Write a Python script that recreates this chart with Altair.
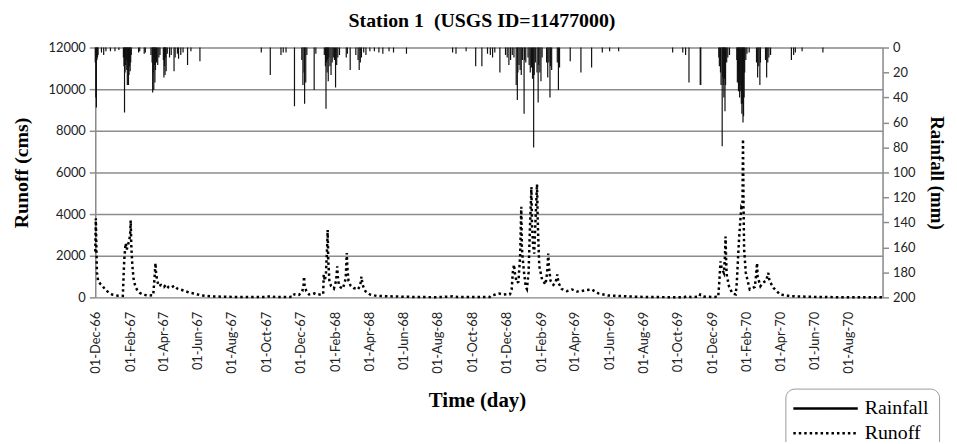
import altair as alt
import pandas as pd

# ---------------- data ----------------
runoff_dates = [
    "1966-12-01", "1966-12-02", "1966-12-03", "1966-12-04", "1966-12-06", "1966-12-10", "1966-12-14",
    "1966-12-18", "1966-12-22", "1966-12-26", "1966-12-31",
    "1967-01-10", "1967-01-19", "1967-01-21", "1967-01-22", "1967-01-24", "1967-01-26", "1967-01-28",
    "1967-01-30", "1967-02-01", "1967-02-02", "1967-02-03", "1967-02-05", "1967-02-07", "1967-02-10",
    "1967-02-13", "1967-02-18", "1967-02-24", "1967-03-05", "1967-03-14", "1967-03-16", "1967-03-18",
    "1967-03-19", "1967-03-21", "1967-03-24", "1967-03-28", "1967-04-02", "1967-04-06", "1967-04-10",
    "1967-04-14", "1967-04-20", "1967-04-26", "1967-05-01", "1967-05-10", "1967-05-18", "1967-05-27",
    "1967-06-08", "1967-06-25", "1967-07-15", "1967-08-15", "1967-09-15", "1967-10-01", "1967-10-08",
    "1967-10-15", "1967-11-10", "1967-11-18", "1967-11-20", "1967-11-28", "1967-12-04", "1967-12-06",
    "1967-12-07", "1967-12-08", "1967-12-11", "1967-12-16", "1967-12-21", "1967-12-25", "1967-12-30",
    "1968-01-10", "1968-01-11", "1968-01-13", "1968-01-15", "1968-01-17", "1968-01-18", "1968-01-19",
    "1968-01-21", "1968-01-24", "1968-01-29", "1968-02-02", "1968-02-04", "1968-02-05", "1968-02-07",
    "1968-02-10", "1968-02-14", "1968-02-19", "1968-02-21", "1968-02-22", "1968-02-24", "1968-02-28",
    "1968-03-04", "1968-03-12", "1968-03-16", "1968-03-18", "1968-03-20", "1968-03-25", "1968-04-02",
    "1968-04-14", "1968-05-01", "1968-06-01", "1968-07-01", "1968-08-01", "1968-08-27", "1968-09-05",
    "1968-10-01", "1968-11-01", "1968-11-03", "1968-11-10", "1968-11-18", "1968-11-25", "1968-12-02",
    "1968-12-07", "1968-12-10", "1968-12-12", "1968-12-14", "1968-12-16", "1968-12-19", "1968-12-22",
    "1968-12-25", "1968-12-27", "1968-12-28", "1968-12-29",
    "1969-01-01", "1969-01-04", "1969-01-06", "1969-01-09", "1969-01-11", "1969-01-13", "1969-01-14",
    "1969-01-15", "1969-01-17", "1969-01-19", "1969-01-21", "1969-01-23", "1969-01-24", "1969-01-25",
    "1969-01-26", "1969-01-28", "1969-02-02", "1969-02-08", "1969-02-11", "1969-02-13", "1969-02-14",
    "1969-02-17", "1969-02-22", "1969-02-26", "1969-03-01", "1969-03-03", "1969-03-09", "1969-03-18",
    "1969-03-27", "1969-04-05", "1969-04-13", "1969-04-22", "1969-05-01", "1969-05-13", "1969-05-30",
    "1969-06-23", "1969-07-20", "1969-08-20", "1969-09-20", "1969-10-12", "1969-10-18", "1969-10-24",
    "1969-11-08", "1969-11-10", "1969-11-16", "1969-12-01", "1969-12-12", "1969-12-14", "1969-12-16",
    "1969-12-18", "1969-12-22", "1969-12-24", "1969-12-25", "1969-12-26", "1969-12-27", "1969-12-31",
    "1970-01-06", "1970-01-12", "1970-01-14", "1970-01-16", "1970-01-18", "1970-01-20", "1970-01-22",
    "1970-01-24", "1970-01-25", "1970-01-26", "1970-01-27", "1970-01-30", "1970-02-06", "1970-02-15",
    "1970-02-17", "1970-02-19", "1970-02-20", "1970-02-25", "1970-03-01", "1970-03-07", "1970-03-11",
    "1970-03-13", "1970-03-20", "1970-04-01", "1970-04-19", "1970-05-20", "1970-06-20", "1970-07-20",
    "1970-08-20", "1970-09-30",
]
runoff_cms = [
    2200, 3800, 2400, 1200, 800, 650, 550,
    400, 300, 220, 140,
    80, 70, 1500, 2000, 2600, 2300, 2500,
    2700, 3000, 3700, 2500, 1500, 900, 550,
    380, 220, 130, 90, 100, 800, 1650,
    1200, 800, 540, 600, 500, 620, 480,
    450, 560, 420, 380, 300, 220, 180,
    90, 50, 30, 20, 15, 20, 60,
    25, 20, 30, 150, 120, 300, 600,
    1000, 600, 300, 140, 150, 190, 130,
    150, 1100, 800, 1200, 2400, 3240, 1800,
    800, 540, 420, 800, 1490, 1000, 600,
    480, 420, 900, 2130, 1400, 800, 550,
    450, 380, 600, 1000, 600, 300, 140,
    70, 55, 30, 15, 10, 50, 15,
    15, 20, 80, 130, 180, 140, 160,
    150, 400, 1200, 1570, 1100, 700, 750,
    2000, 4350, 2500, 2000,
    1175, 500, 400, 1200, 3000, 4500, 5300,
    3500, 2500, 2100, 3500, 4800, 5430, 4000,
    3000, 1500, 860, 620, 1200, 2100, 1500,
    800, 600, 700, 1100, 700, 400, 300,
    380, 280, 300, 350, 380, 190, 90,
    60, 30, 15, 10, 10, 60, 20,
    30, 140, 40, 20, 30, 800, 1730,
    1400, 1175, 2000, 2920, 1800, 1100, 540,
    190, 140, 700, 1800, 2800, 3600, 4300,
    4200, 7600, 4300, 2300, 1175, 380, 500,
    1000, 1650, 1000, 540, 700, 800, 1175,
    800, 460, 140, 60, 30, 15, 10,
    8, 8,
]

rain_dates = [
    "1966-12-01", "1966-12-02", "1966-12-03", "1966-12-04", "1966-12-05", "1966-12-06", "1966-12-12",
    "1966-12-16", "1966-12-20", "1966-12-28", "1967-01-05", "1967-01-12",
    "1967-01-20", "1967-01-21", "1967-01-22", "1967-01-23", "1967-01-24", "1967-01-25", "1967-01-26",
    "1967-01-27", "1967-01-28", "1967-01-29", "1967-01-30", "1967-01-31", "1967-02-01", "1967-02-02",
    "1967-02-03", "1967-02-16", "1967-02-18", "1967-02-26", "1967-02-28",
    "1967-03-10", "1967-03-12", "1967-03-13", "1967-03-14", "1967-03-15", "1967-03-16", "1967-03-17",
    "1967-03-18", "1967-03-19", "1967-03-20", "1967-03-22", "1967-03-24", "1967-03-26",
    "1967-04-01", "1967-04-02", "1967-04-03", "1967-04-04", "1967-04-05", "1967-04-06", "1967-04-08",
    "1967-04-12", "1967-04-15", "1967-04-20", "1967-04-22", "1967-04-26", "1967-04-28", "1967-05-02",
    "1967-05-06", "1967-05-14", "1967-05-20", "1967-06-05",
    "1967-09-22", "1967-10-08", "1967-10-27", "1967-10-31", "1967-11-05", "1967-11-20",
    "1967-12-03", "1967-12-05", "1967-12-07", "1967-12-08", "1967-12-10", "1967-12-12", "1967-12-25",
    "1967-12-28",
    "1968-01-12", "1968-01-14", "1968-01-15", "1968-01-16", "1968-01-17", "1968-01-18", "1968-01-19",
    "1968-01-20", "1968-01-22", "1968-01-24", "1968-01-26", "1968-01-28", "1968-01-30", "1968-02-01",
    "1968-02-03", "1968-02-05", "1968-02-08", "1968-02-20", "1968-02-22", "1968-02-27",
    "1968-03-08", "1968-03-12", "1968-03-14", "1968-03-16", "1968-03-18", "1968-03-22", "1968-03-26",
    "1968-04-02", "1968-04-10", "1968-04-18", "1968-04-25", "1968-05-06", "1968-05-14", "1968-06-06",
    "1968-08-27", "1968-09-02", "1968-09-20", "1968-10-07", "1968-10-18", "1968-10-28", "1968-11-02",
    "1968-11-06", "1968-11-10", "1968-11-19", "1968-11-29", "1968-12-02", "1968-12-05", "1968-12-08",
    "1968-12-11", "1968-12-14", "1968-12-18", "1968-12-20", "1968-12-21", "1968-12-23", "1968-12-25",
    "1968-12-27", "1968-12-29",
    "1969-01-01", "1969-01-02", "1969-01-04", "1969-01-08", "1969-01-10", "1969-01-12", "1969-01-14",
    "1969-01-16", "1969-01-18", "1969-01-19", "1969-01-21", "1969-01-24", "1969-01-26", "1969-01-27",
    "1969-01-29", "1969-01-31", "1969-02-02", "1969-02-10", "1969-02-12", "1969-02-14", "1969-02-16",
    "1969-02-17", "1969-02-19", "1969-03-01", "1969-03-03", "1969-03-05", "1969-03-24", "1969-04-12",
    "1969-05-01", "1969-05-20", "1969-06-02", "1969-06-18",
    "1969-09-22", "1969-10-10", "1969-10-15", "1969-10-21", "1969-11-10", "1969-11-11",
    "1969-12-13", "1969-12-14", "1969-12-16", "1969-12-17", "1969-12-19", "1969-12-20", "1969-12-21",
    "1969-12-22", "1969-12-23", "1969-12-24", "1969-12-25", "1969-12-27", "1969-12-29",
    "1970-01-01", "1970-01-14", "1970-01-15", "1970-01-16", "1970-01-17", "1970-01-18", "1970-01-19",
    "1970-01-20", "1970-01-21", "1970-01-22", "1970-01-23", "1970-01-24", "1970-01-25", "1970-01-26",
    "1970-01-27", "1970-01-28", "1970-01-30", "1970-02-01", "1970-02-05", "1970-02-18", "1970-02-20",
    "1970-02-22", "1970-02-24", "1970-02-25", "1970-03-06", "1970-03-08", "1970-03-10", "1970-03-12",
    "1970-03-15", "1970-04-21", "1970-04-25", "1970-04-28", "1970-05-10", "1970-06-16",
]
rain_mm = [
    12, 40, 48, 10, 8, 6, 4,
    6, 3, 3, 3, 2,
    8, 15, 52, 20, 14, 10, 18,
    30, 12, 30, 22, 15, 19, 12,
    6, 4, 3, 5, 4,
    6, 12, 36, 20, 34, 14, 28,
    18, 10, 12, 14, 8, 6,
    10, 24, 15, 22, 8, 19, 5,
    8, 6, 19, 8, 5, 9, 6,
    4, 14, 3, 11,
    4, 22, 6, 4, 4, 47,
    10, 30, 20, 45, 28, 6, 34,
    5,
    6, 15, 49, 12, 20, 10, 27,
    8, 15, 22, 12, 8, 10, 32,
    14, 8, 6, 8, 5, 18,
    6, 10, 18, 12, 8, 4, 6,
    3, 3, 4, 5, 3, 4, 5,
    4, 5, 3, 15, 15, 5, 6,
    8, 4, 20, 6, 8, 14, 10,
    6, 8, 30, 42, 20, 14, 18,
    22, 10,
    53, 10, 12, 8, 14, 20, 16,
    25, 80, 22, 12, 20, 44, 14,
    20, 27, 8, 12, 24, 12, 40,
    15, 18, 12, 34, 16, 11, 20,
    16, 4, 3, 3,
    4, 4, 6, 28, 30, 30,
    8, 15, 20, 30, 79, 24, 30,
    40, 25, 51, 30, 12, 8,
    6, 10, 28, 20, 35, 25, 40,
    30, 35, 45, 53, 45, 60, 55,
    40, 20, 10, 5, 4, 12, 24,
    15, 30, 12, 10, 24, 12, 8,
    6, 10, 6, 4, 3, 4,
]

series_names = ["Rainfall", "Runoff"]
runoff_ticks = [0, 2000, 4000, 6000, 8000, 10000, 12000]
rain_ticks = [0, 20, 40, 60, 80, 100, 120, 140, 160, 180, 200]

# ---------------- tables ----------------
runoff_df = pd.DataFrame({"date": pd.to_datetime(runoff_dates), "runoff": runoff_cms, "series": "Runoff"})
rain_df = pd.DataFrame({"date": pd.to_datetime(rain_dates), "rain": rain_mm, "series": "Rainfall"})

tick_dates = pd.date_range("1966-12-01", "1970-08-01", freq="2MS")
tick_values = [alt.DateTime(year=int(d.year), month=int(d.month), date=1) for d in tick_dates]

GRID = "#8c8c8c"
SERIF = "Liberation Serif"
SANS = "Lato"

x_enc = alt.X(
    "date:T",
    scale=alt.Scale(
        domain=[alt.DateTime(year=1966, month=12, date=1), alt.DateTime(year=1970, month=9, date=30)],
        nice=False,
    ),
    axis=alt.Axis(
        values=tick_values, format="%d-%b-%y", labelAngle=-90, labelFont=SANS, labelFontSize=13,
        labelColor="#222", labelPadding=14, ticks=False, domain=False, grid=False,
        title="Time (day)", titleFont=SERIF, titleFontSize=21, titleFontWeight="bold", titleColor="black",
        titleX=385, titleY=104, titleBaseline="middle", titleAnchor="middle",
    ),
)

# long horizontal legend swatch: path spans -2.4..10.6 units, scaled by sqrt(size)/2 = 5 px
dash = alt.StrokeDash(
    "series:N",
    scale=alt.Scale(domain=series_names, range=[[1, 0], [2.5, 3]]),
    legend=alt.Legend(
        orient="none", legendX=696, legendY=344, title=None, symbolType="M-2.4,0L10.6,0", symbolSize=100,
        symbolStrokeWidth=2.5, symbolStrokeColor="black", labelFont=SERIF, labelFontSize=20,
        labelColor="black", strokeColor="#999", cornerRadius=9, padding=10, labelOffset=50,
        rowPadding=5, fillColor="white",
    ),
)

rain_layer = alt.Chart(rain_df).mark_rule(color="#111", strokeWidth=1.2).encode(
    x=x_enc,
    y=alt.Y(
        "rain:Q",
        scale=alt.Scale(domain=[0, 200], reverse=True, nice=False),
        axis=alt.Axis(
            orient="right", values=rain_ticks, format="d", grid=False, domainColor=GRID, domainWidth=1.5,
            tickColor=GRID, tickWidth=1.5, tickSize=6, labelFont=SANS, labelFontSize=13, labelColor="#222",
            labelPadding=4, title="Rainfall (mm)", titleFont=SERIF, titleFontSize=19, titleFontWeight="bold",
            titleColor="black", titleX=54, titleY=126, titleBaseline="middle", titleAngle=90,
        ),
    ),
    y2=alt.datum(0),
    strokeDash=dash,
)

runoff_layer = alt.Chart(runoff_df).mark_line(color="black", strokeWidth=2.5, strokeCap="butt").encode(
    x=x_enc,
    y=alt.Y(
        "runoff:Q",
        scale=alt.Scale(domain=[0, 12000], nice=False),
        axis=alt.Axis(
            orient="left", values=runoff_ticks, format="d", grid=True, gridColor=GRID, gridWidth=1.5,
            domainColor=GRID, domainWidth=1.5, tickColor=GRID, tickWidth=1.5, tickSize=6,
            labelFont=SANS, labelFontSize=13, labelColor="#222", labelPadding=4,
            title="Runoff (cms)", titleFont=SERIF, titleFontSize=20, titleFontWeight="bold",
            titleColor="black", titleX=-74, titleY=126, titleBaseline="middle", titleAngle=-90,
        ),
    ),
    strokeDash=dash,
)

chart = (
    alt.layer(rain_layer, runoff_layer)
    .resolve_scale(y="independent")
    .properties(
        width=794,
        height=252,
        title=alt.TitleParams(
            "Station 1\u00a0 (USGS ID=11477000)", font=SERIF, fontSize=20, fontWeight="bold",
            color="black", anchor="middle", baseline="middle", offset=1, dx=-7,
        ),
        autosize=alt.AutoSizeParams(type="none"),
        padding={"left": 88, "top": 38, "right": 67, "bottom": 144},
    )
    .configure_view(stroke=None)
    .configure_title(font=SERIF, fontWeight="bold", fontSize=20, color="black")
    .configure(background="white")
)

chart.save("out.html", embed_options={"renderer": "svg", "actions": False})
